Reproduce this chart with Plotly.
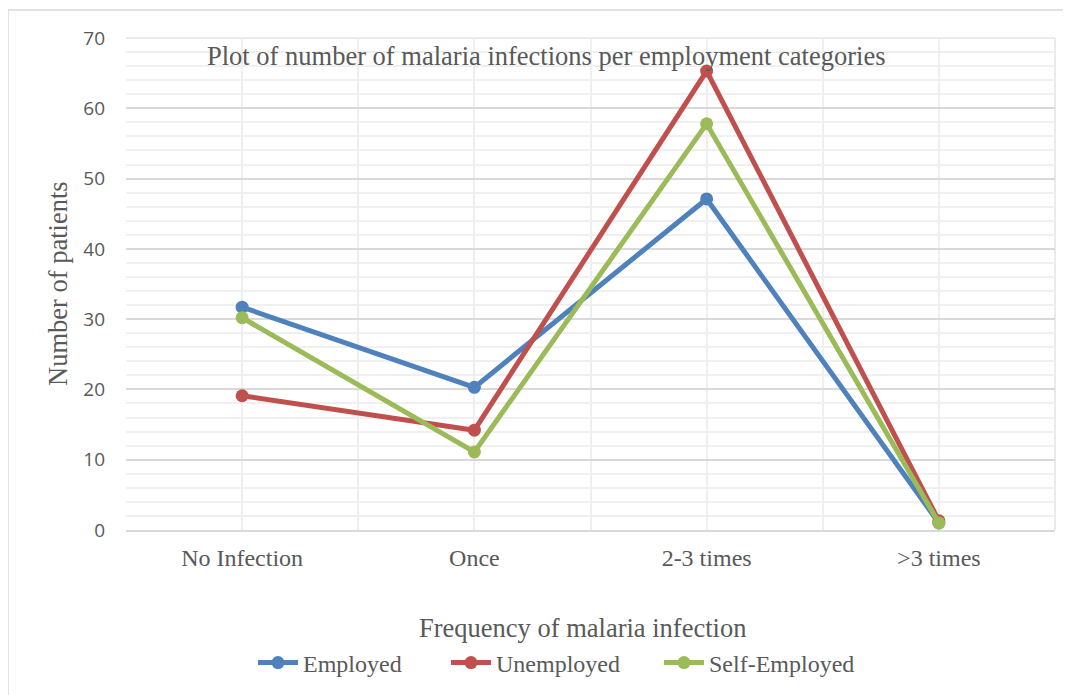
import plotly.graph_objects as go

categories = ["No Infection", "Once", "2-3 times", ">3 times"]
employed = [31.7, 20.3, 47.1, 1.0]
unemployed = [19.1, 14.2, 65.3, 1.3]
self_employed = [30.2, 11.1, 57.8, 1.0]
series_names = ["Employed", "Unemployed", "Self-Employed"]
series_colors = ["#4F81BD", "#C0504D", "#9BBB59"]
y_ticks = [0, 10, 20, 30, 40, 50, 60, 70]

x_pos = list(range(len(categories)))
serif = "Liberation Serif, Times New Roman, serif"
sans = "Open Sans, Liberation Sans, sans-serif"
txt = "#595959"

OFF = 8  # page body margin
W, H = 1071 - OFF, 695 - OFF
# plot area in page coords: x 126..1055, y 38..530
L, T = 126 - OFF, 38 - OFF
R = W - (1055 - OFF)
B = H - (530 - OFF)
pw, ph = W - L - R, H - T - B


def px(xp):
    return (xp - 126) / pw


def py(yp):
    return (530 - yp) / ph


legend_text_starts = [305, 498, 711]
legend_keys = ["legend", "legend2", "legend3"]

fig = go.Figure()
for name, vals, col, lk in zip(series_names, [employed, unemployed, self_employed],
                               series_colors, legend_keys):
    fig.add_trace(go.Scatter(
        x=x_pos, y=vals, name=name, mode="lines+markers",
        line=dict(color=col, width=5),
        marker=dict(color=col, size=13),
        legend=lk,
    ))

legend_common = dict(orientation="h", xanchor="left", yanchor="middle",
                     font=dict(family=serif, size=24, color=txt),
                     bgcolor="rgba(0,0,0,0)", itemwidth=40)
legends = {}
for lk, ts in zip(legend_keys, legend_text_starts):
    legends[lk] = dict(legend_common, x=px(ts - 52), y=py(663))

fig.update_layout(
    width=W, height=H,
    margin=dict(l=L, r=R, t=T, b=B, autoexpand=False),
    paper_bgcolor="white", plot_bgcolor="white",
    showlegend=True,
    **legends,
    xaxis=dict(range=[-0.5, 3.5], tickvals=x_pos, ticktext=categories,
               showgrid=True, gridcolor="#EFEFEF", gridwidth=1.5,
               minor=dict(tickvals=[-0.5, 0.5, 1.5, 2.5, 3.5], showgrid=True,
                          gridcolor="#EFEFEF", gridwidth=1.5),
               showline=True, linecolor="#D9D9D9", linewidth=2,
               zeroline=False, ticks="", automargin=False,
               tickfont=dict(family=serif, size=24, color=txt),
               ticklabelstandoff=5, fixedrange=True),
    yaxis=dict(range=[0, 70], tickvals=y_ticks,
               showgrid=True, gridcolor="#D9D9D9", gridwidth=1.5,
               minor=dict(dtick=2, showgrid=True, gridcolor="#F0F0F0", gridwidth=1.5),
               zeroline=False, showline=False, ticks="", automargin=False,
               tickfont=dict(family=sans, size=19, color=txt),
               ticklabelstandoff=20, fixedrange=True),
    annotations=[
        dict(text="Plot of number of malaria infections per employment categories",
             xref="paper", yref="paper", x=px(546), y=py(56),
             xanchor="center", yanchor="middle", showarrow=False,
             font=dict(family=serif, size=26.5, color=txt)),
        dict(text="Frequency of malaria infection",
             xref="paper", yref="paper", x=px(582), y=py(628),
             xanchor="center", yanchor="middle", showarrow=False,
             font=dict(family=serif, size=26.5, color=txt)),
        dict(text="Number of patients", textangle=-90,
             xref="paper", yref="paper", x=px(58), y=py(284),
             xanchor="center", yanchor="middle", showarrow=False,
             font=dict(family=serif, size=26.5, color=txt)),
    ],
    shapes=[
        dict(type="line", xref="paper", yref="paper",
             x0=px(8), x1=px(1075), y0=py(10), y1=py(10),
             line=dict(color="#D9D9D9", width=1.5)),
        dict(type="line", xref="paper", yref="paper",
             x0=px(8), x1=px(8), y0=py(10), y1=py(700),
             line=dict(color="#D9D9D9", width=1.5)),
        dict(type="line", xref="paper", yref="paper", x0=0, x1=1, y0=1, y1=1,
             line=dict(color="#E3E3E3", width=1.5), layer="below"),
        dict(type="line", xref="paper", yref="paper", x0=1, x1=1, y0=0, y1=1,
             line=dict(color="#E3E3E3", width=1.5), layer="below"),
    ],
)

fig.write_html("out.html")
